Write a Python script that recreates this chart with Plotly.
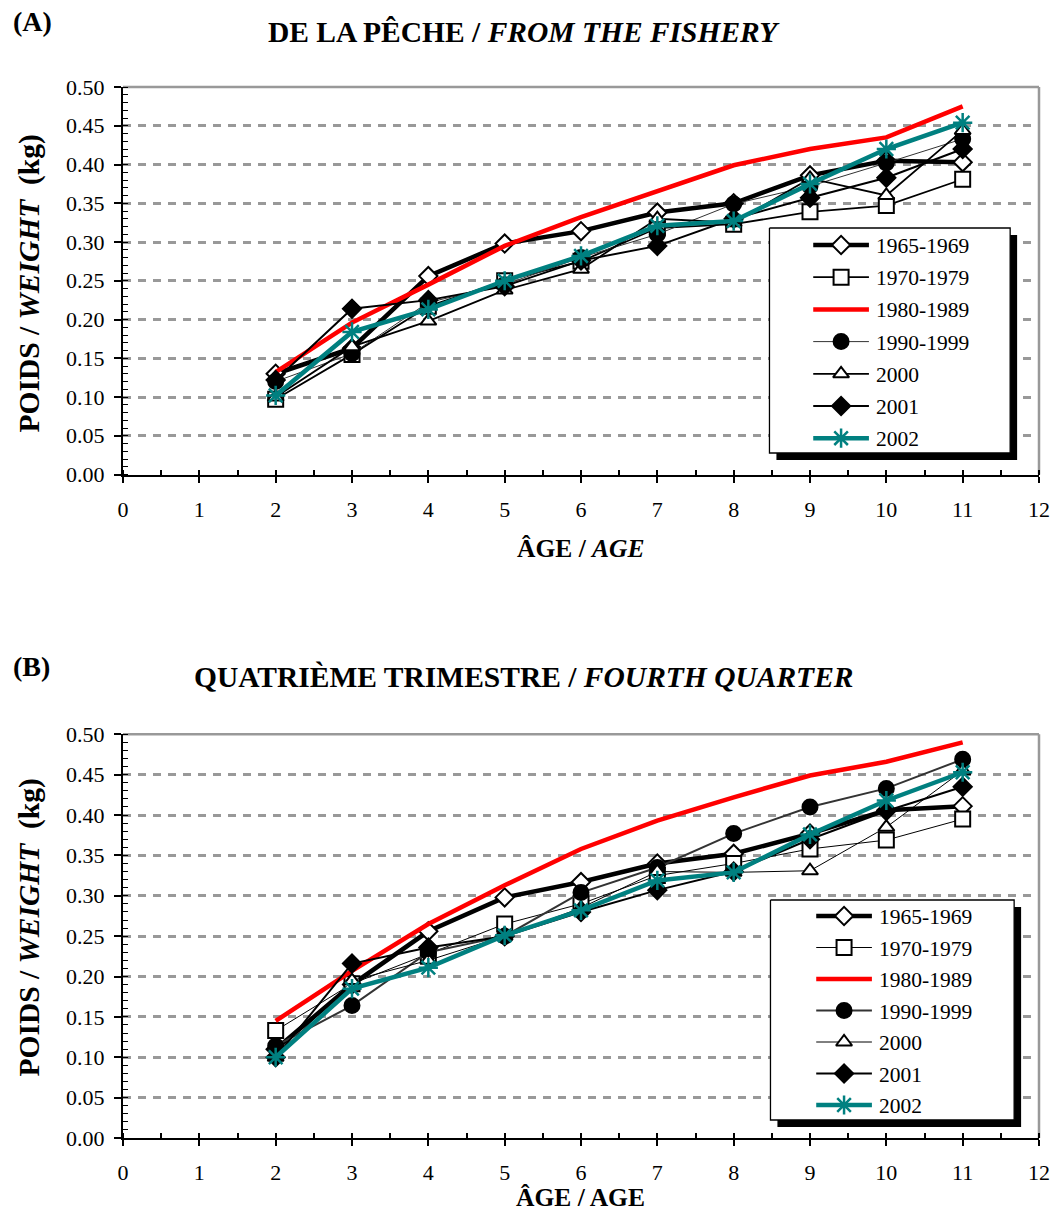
import plotly.graph_objects as go

# ---------------- data ----------------
ages = [2, 3, 4, 5, 6, 7, 8, 9, 10, 11]
series_names = ["1965-1969", "1970-1979", "1980-1989", "1990-1999", "2000", "2001", "2002"]

# (A) weight at age from the fishery (kg)
fishery_1965_1969 = [0.130, 0.163, 0.256, 0.298, 0.314, 0.338, 0.350, 0.386, 0.405, 0.403]
fishery_1970_1979 = [0.097, 0.155, 0.217, 0.250, 0.275, 0.318, 0.323, 0.339, 0.347, 0.381]
fishery_1980_1989 = [0.132, 0.196, 0.245, 0.295, 0.332, 0.366, 0.399, 0.420, 0.435, 0.475]
fishery_1990_1999 = [0.120, 0.156, 0.222, 0.245, 0.280, 0.310, 0.349, 0.372, 0.402, 0.433]
fishery_2000 = [0.100, 0.165, 0.198, 0.238, 0.265, 0.330, 0.325, 0.382, 0.360, 0.444]
fishery_2001 = [0.122, 0.214, 0.225, 0.243, 0.276, 0.295, 0.330, 0.357, 0.383, 0.420]
fishery_2002 = [0.102, 0.184, 0.213, 0.250, 0.282, 0.321, 0.327, 0.375, 0.420, 0.454]

# (B) weight at age, fourth quarter (kg)
q4_1965_1969 = [0.110, 0.190, 0.256, 0.298, 0.317, 0.340, 0.352, 0.377, 0.406, 0.411]
q4_1970_1979 = [0.133, 0.191, 0.228, 0.265, 0.290, 0.325, 0.340, 0.358, 0.369, 0.395]
q4_1980_1989 = [0.145, 0.207, 0.265, 0.313, 0.358, 0.393, 0.422, 0.449, 0.466, 0.490]
q4_1990_1999 = [0.114, 0.164, 0.230, 0.250, 0.304, 0.335, 0.377, 0.410, 0.433, 0.469]
q4_2000 = [0.100, 0.195, 0.220, 0.250, 0.285, 0.330, 0.329, 0.331, 0.385, 0.455]
q4_2001 = [0.100, 0.216, 0.236, 0.250, 0.280, 0.307, 0.330, 0.370, 0.405, 0.435]
q4_2002 = [0.100, 0.185, 0.211, 0.251, 0.282, 0.319, 0.329, 0.376, 0.418, 0.453]

x_ticks = list(range(0, 13))
y_ticks = [round(0.05 * i, 2) for i in range(11)]

# ---------------- page geometry (pixels) ----------------
W, H = 1062, 1216
ML, MR, MT, MB = 123, 18, 87, 78
PW, PH = W - ML - MR, H - MT - MB


def fx(px):
    return (px - ML) / PW


def fy(py):
    return (H - MB - py) / PH


FONT = "Liberation Serif"
TEAL = "#008080"

# per-series style: (line colour, width in A, width in B, marker symbol, marker fill, size)
styles = [
    ("black", 4.5, 4.5, "diamond", "white", 14),
    ("black", 1.8, 1.0, "square", "white", 15),
    ("#ff0000", 4.5, 4.5, None, None, 0),
    ("#333333", 1.0, 2.0, "circle", "black", 15),
    ("black", 1.8, 1.0, "triangle-up", "white", 14),
    ("black", 2.0, 2.0, "diamond", "black", 14),
    (TEAL, 4.5, 4.5, "asterisk-open", TEAL, 16),
]

panel_a = [fishery_1965_1969, fishery_1970_1979, fishery_1980_1989, fishery_1990_1999,
           fishery_2000, fishery_2001, fishery_2002]
panel_b = [q4_1965_1969, q4_1970_1979, q4_1980_1989, q4_1990_1999,
           q4_2000, q4_2001, q4_2002]


def marker_for(sym, fill, size):
    if sym is None:
        return None
    ast = sym.startswith("asterisk")
    return dict(symbol=sym, size=size, color=fill,
                line=dict(color=TEAL if ast else "black", width=2.5 if ast else 2))


fig = go.Figure()


def add_panel(values, xa, ya, panel):
    for name, ys, st in zip(series_names, values, styles):
        color, wa, wb, sym, fill, size = st
        fig.add_trace(go.Scatter(
            x=ages, y=ys, name=name,
            mode="lines" if sym is None else "lines+markers",
            line=dict(color=color, width=wa if panel == 0 else wb),
            marker=marker_for(sym, fill, size),
            xaxis=xa, yaxis=ya, showlegend=False, hoverinfo="skip"))


add_panel(panel_a, "x", "y", 0)
add_panel(panel_b, "x2", "y2", 1)

# ---------------- legends (drawn on a pixel-unit overlay subplot) ----------------
legend_boxes = [
    # left, top, right, bottom, first row centre, row step, key x0, key x1, text x
    dict(l=773, t=228, r=1015, b=453, y0=245, dy=32.2, k0=817, k1=873, tx=878),
    dict(l=774, t=900, r=1019, b=1120, y0=916, dy=31.5, k0=820, k1=876, tx=881),
]
SH = 7  # drop-shadow offset

for panel, lb in enumerate(legend_boxes):
    l, t, r, b = lb["l"], lb["t"], lb["r"], lb["b"]
    fig.add_trace(go.Scatter(
        x=[l + SH, r + SH, r + SH, l + SH, l + SH], y=[t + SH, t + SH, b + SH, b + SH, t + SH],
        mode="lines", fill="toself", fillcolor="black", line=dict(color="black", width=0),
        xaxis="x3", yaxis="y3", showlegend=False, hoverinfo="skip"))
    fig.add_trace(go.Scatter(
        x=[l, r, r, l, l], y=[t, t, b, b, t],
        mode="lines", fill="toself", fillcolor="white", line=dict(color="black", width=1.3),
        xaxis="x3", yaxis="y3", showlegend=False, hoverinfo="skip"))
    for i, (name, st) in enumerate(zip(series_names, styles)):
        color, wa, wb, sym, fill, size = st
        yc = lb["y0"] + i * lb["dy"]
        fig.add_trace(go.Scatter(
            x=[lb["k0"], lb["k1"]], y=[yc, yc], mode="lines",
            line=dict(color=color, width=wa if panel == 0 else wb),
            xaxis="x3", yaxis="y3", showlegend=False, hoverinfo="skip"))
        if sym is not None:
            fig.add_trace(go.Scatter(
                x=[(lb["k0"] + lb["k1"]) / 2], y=[yc], mode="markers",
                marker=marker_for(sym, fill, size),
                xaxis="x3", yaxis="y3", showlegend=False, hoverinfo="skip"))

xaxis_common = dict(
    range=[0, 12], tickmode="array", tickvals=x_ticks, ticktext=[str(v) for v in x_ticks],
    ticks="outside", ticklen=6, tickwidth=1.5, tickcolor="black",
    showline=True, linecolor="black", linewidth=2, showgrid=False, zeroline=False,
    minor=dict(tickmode="linear", dtick=0.5, ticks="inside", ticklen=5, tickwidth=1.5,
               tickcolor="black", showgrid=False),
    tickfont=dict(family=FONT, size=22, color="black"), ticklabelstandoff=8,
    fixedrange=True,
)
yaxis_common = dict(
    range=[0, 0.5], tickmode="array", tickvals=y_ticks, ticktext=[f"{v:.2f}" for v in y_ticks],
    ticks="outside", ticklen=7, tickwidth=1.5, tickcolor="black",
    showline=True, linecolor="black", linewidth=2, zeroline=False,
    showgrid=True, gridcolor="#999999", gridwidth=3, griddash="8px,7px",
    minor=dict(tickmode="linear", dtick=0.01, ticks="inside", ticklen=5, tickwidth=1.2,
               tickcolor="black", showgrid=False),
    tickfont=dict(family=FONT, size=22, color="black"), ticklabelstandoff=5,
    fixedrange=True,
)

fig.update_layout(
    width=W, height=H, margin=dict(l=ML, r=MR, t=MT, b=MB),
    paper_bgcolor="white", plot_bgcolor="rgba(0,0,0,0)",
    font=dict(family=FONT, color="black"), showlegend=False,
    xaxis=dict(xaxis_common, anchor="y", domain=[0, 1]),
    yaxis=dict(yaxis_common, anchor="x", domain=[fy(474.5), 1.0]),
    xaxis2=dict(xaxis_common, anchor="y2", domain=[0, 1]),
    yaxis2=dict(yaxis_common, anchor="x2", domain=[0.0, fy(734.3)]),
    xaxis3=dict(range=[ML, W - MR], domain=[0, 1], anchor="y3", visible=False, fixedrange=True),
    yaxis3=dict(range=[H - MB, MT], domain=[0, 1], anchor="x3", visible=False, fixedrange=True),
)

# gray frame on top and right of each plot area
shapes = []
for xr, yr in (("x domain", "y domain"), ("x2 domain", "y2 domain")):
    shapes.append(dict(type="line", xref=xr, yref=yr, x0=0, x1=1, y0=1, y1=1,
                       line=dict(color="#999999", width=2.5), layer="below"))
    shapes.append(dict(type="line", xref=xr, yref=yr, x0=1, x1=1, y0=0, y1=1,
                       line=dict(color="#999999", width=2.5), layer="below"))
fig.update_layout(shapes=shapes)

ann = []


def text(px, py, s, size, angle=0, xanchor="center"):
    ann.append(dict(x=fx(px), y=fy(py), xref="paper", yref="paper", text=s, showarrow=False,
                    font=dict(family=FONT, size=size, color="black"), textangle=angle,
                    xanchor=xanchor, yanchor="middle"))


# legend labels
for lb in legend_boxes:
    for i, name in enumerate(series_names):
        text(lb["tx"], lb["y0"] + i * lb["dy"] + 1, name, 21.5, xanchor="left")

text(10, 21, "<b>(A)</b>", 28, xanchor="left")
text(526, 32, "<b>DE LA PÊCHE / <i>FROM THE FISHERY</i></b>", 29.5)
text(583, 548, "<b>ÂGE / <i>AGE</i></b>", 25.5)
text(28, 284, "<b>POIDS / <i>WEIGHT</i>  (kg)</b>", 29.5, angle=-90)

text(10, 666, "<b>(B)</b>", 28, xanchor="left")
text(526, 677, "<b>QUATRIÈME TRIMESTRE / <i>FOURTH QUARTER</i></b>", 29.5)
text(583, 1197, "<b>ÂGE / AGE</b>", 25.5)
text(28, 928, "<b>POIDS / <i>WEIGHT</i>  (kg)</b>", 29.5, angle=-90)

fig.update_layout(annotations=ann)

fig.write_html("out.html")
